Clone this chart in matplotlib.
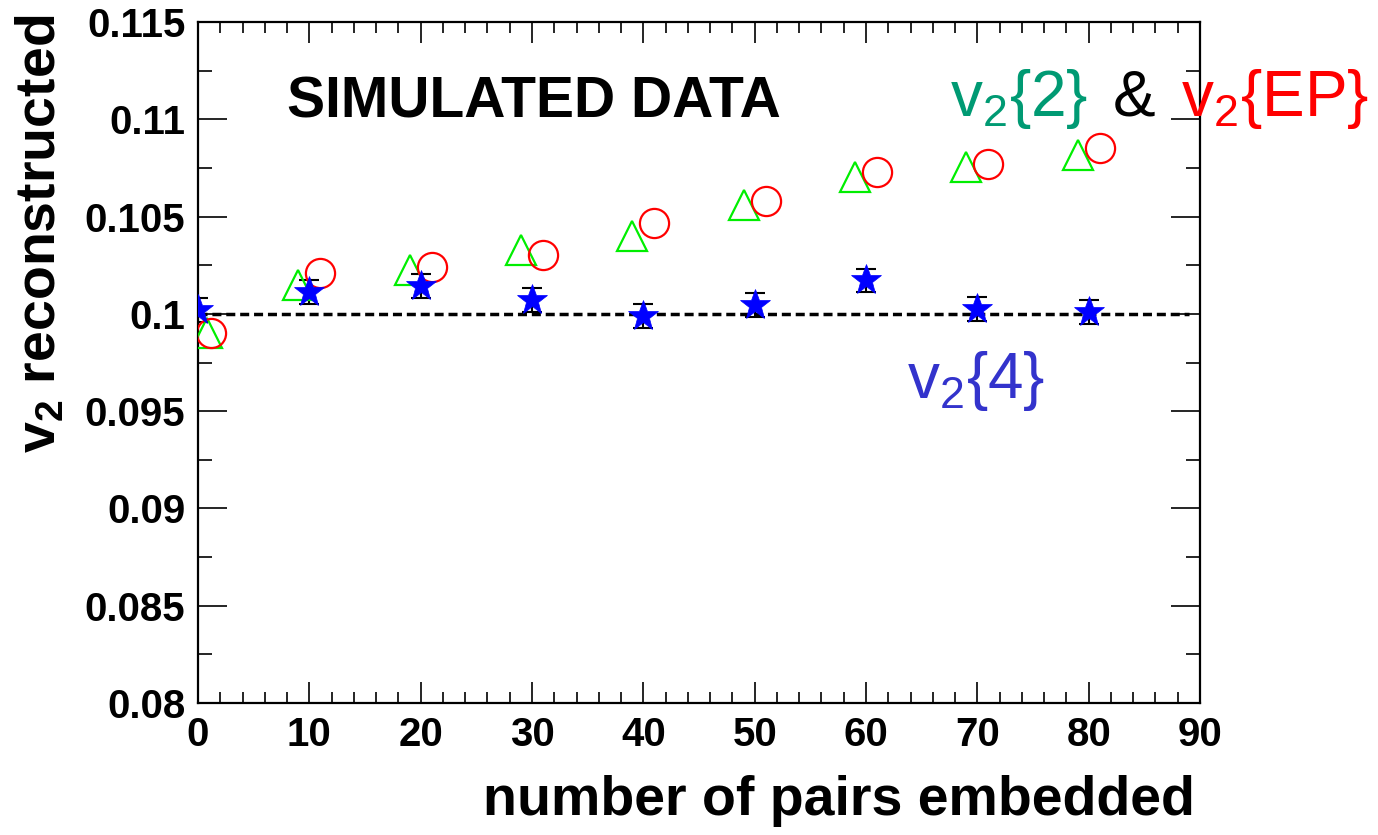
import numpy as np
import matplotlib
matplotlib.use('Agg')
import matplotlib.pyplot as plt
from matplotlib.ticker import MultipleLocator, FuncFormatter

plt.rcParams['font.family'] = ['Liberation Sans', 'DejaVu Sans']
plt.rcParams['mathtext.fontset'] = 'custom'
plt.rcParams['mathtext.rm'] = 'Liberation Sans'
plt.rcParams['mathtext.bf'] = 'Liberation Sans:bold'
plt.rcParams['mathtext.it'] = 'Liberation Sans:italic'
plt.rcParams['mathtext.default'] = 'regular'

# v2{2}  (open green triangles)
v22_x = [0.8, 9, 19, 29, 39, 49, 59, 69, 79]
v22_y = [0.0990, 0.10147, 0.10223, 0.1033, 0.1040, 0.10562, 0.10705, 0.10755, 0.10818]

# v2{EP} (open red circles)
vep_x = [1.2, 11, 21, 31, 41, 51, 61, 71, 81]
vep_y = [0.0990, 0.10208, 0.10239, 0.10302, 0.10468, 0.1058, 0.10731, 0.1077, 0.10852]

# v2{4}  (blue stars with errors)
v24_x = [0, 10, 20, 30, 40, 50, 60, 70, 80]
v24_y = [0.1002, 0.10112, 0.10143, 0.10071, 0.09989, 0.10045, 0.10172, 0.10025, 0.1001]
v24_err = [0.0006, 0.0006, 0.0006, 0.0006, 0.0006, 0.0006, 0.0006, 0.0006, 0.0006]

v2_true = 0.1

W, H = 1378, 835
fig = plt.figure(figsize=(W / 100, H / 100), dpi=100)
ax = fig.add_axes([198 / W, 1 - 703 / H, (1200 - 198) / W, (703 - 22) / H])

# input v2 reference line
ax.plot([0, 89], [v2_true, v2_true], color='black', lw=2.5, dashes=(2.6, 1.4), zorder=1)

ax.errorbar(v24_x, v24_y, yerr=v24_err, fmt='none', ecolor='black', elinewidth=1.5,
            capsize=7, capthick=1.5, zorder=2)
ax.plot(v22_x, v22_y, ls='none', marker='^', ms=22, mfc='none', mec='#00ee00', mew=1.6, zorder=3)
ax.plot(vep_x, vep_y, ls='none', marker='o', ms=21, mfc='none', mec='#ff0000', mew=1.6, zorder=3)
ax.plot(v24_x, v24_y, ls='none', marker='*', ms=23, mfc='#0000ff', mec='#0000ff', mew=0.5, zorder=4)

ax.set_xlim(0, 90)
ax.set_ylim(0.08, 0.115)
ax.xaxis.set_major_locator(MultipleLocator(10))
ax.xaxis.set_minor_locator(MultipleLocator(2))
ax.yaxis.set_major_locator(MultipleLocator(0.005))
ax.yaxis.set_minor_locator(MultipleLocator(0.0025))
ax.yaxis.set_major_formatter(FuncFormatter(lambda v, p: f'{v:g}'))

for s in ax.spines.values():
    s.set_linewidth(1.6)
ax.tick_params(which='both', direction='in', top=True, right=True, width=1.2)
ax.tick_params(axis='y', which='major', length=21, labelsize=29, pad=9)
ax.tick_params(axis='y', which='minor', length=10)
ax.tick_params(axis='x', which='major', length=15, labelsize=29, pad=9)
ax.tick_params(axis='x', which='minor', length=8)
for lab in ax.get_xticklabels() + ax.get_yticklabels():
    lab.set_fontweight('bold')

fig.text(1195 / W, 1 - 815 / H, 'number of pairs embedded', fontsize=40, fontweight='bold',
         ha='right', va='baseline')
fig.text(55 / W, 1 - 15 / H, r'$\mathbf{v_2}$ reconstructed', fontsize=40, fontweight='bold',
         rotation=90, rotation_mode='anchor', ha='right', va='baseline')

fig.text(287 / W, 1 - 117 / H, 'SIMULATED DATA', fontsize=41, fontweight='bold', ha='left', va='baseline')

fig.text(950 / W, 1 - 116 / H, r'v$_2${2}', fontsize=46, color='#009a73', ha='left', va='baseline')
fig.text(1113 / W, 1 - 116 / H, '&', fontsize=46, color='black', ha='left', va='baseline')
fig.text(1181 / W, 1 - 116 / H, r'v$_2${EP}', fontsize=46, color='#ff0000', ha='left', va='baseline')
fig.text(907 / W, 1 - 398 / H, r'v$_2${4}', fontsize=46, color='#3333cc', ha='left', va='baseline')

fig.savefig('out.png', dpi=100)
